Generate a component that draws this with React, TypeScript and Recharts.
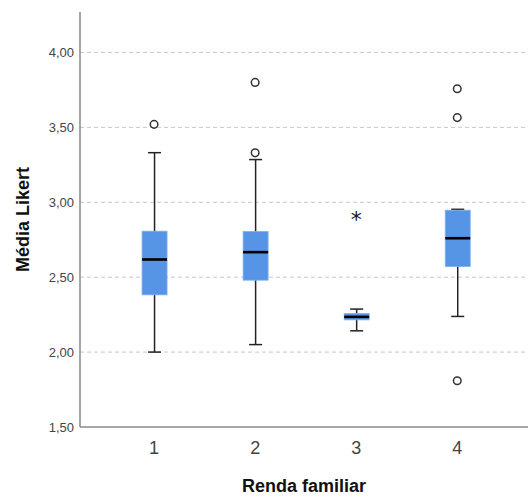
import React from "react";
import { ComposedChart, Bar, Scatter, XAxis, YAxis, CartesianGrid, Label } from "recharts";

const categories = [1, 2, 3, 4];
const mins = [2.0, 2.05, 2.142, 2.238];
const q1s = [2.382, 2.48, 2.215, 2.571];
const medians = [2.618, 2.667, 2.235, 2.76];
const q3s = [2.807, 2.805, 2.258, 2.947];
const maxs = [3.331, 3.285, 2.287, 2.953];

const outlierX = [1, 2, 2, 4, 4, 4];
const outlierY = [3.52, 3.8, 3.33, 3.758, 3.565, 1.809];
const extremeX = [3];
const extremeY = [2.898];

const yTicks = [1.5, 2.0, 2.5, 3.0, 3.5, 4.0];

const boxData = categories.map((c, i) => ({
  x: c,
  range: [mins[i], maxs[i]],
  min: mins[i],
  q1: q1s[i],
  median: medians[i],
  q3: q3s[i],
  max: maxs[i],
}));
const outliers = outlierX.map((x, i) => ({ x, y: outlierY[i] }));
const extremes = extremeX.map((x, i) => ({ x, y: extremeY[i] }));

const BoxShape = (props: any) => {
  const { x, y, width, height, payload } = props;
  if (payload == null) return null;
  const { min, max, q1, q3, median } = payload;
  const toY = (v: number) => y + (height * (max - v)) / (max - min);
  const cx = x + width / 2;
  const boxW = 25;
  const capW = 13;
  const yMin = toY(min);
  const yMax = toY(max);
  const yQ1 = toY(q1);
  const yQ3 = toY(q3);
  const yMed = toY(median);
  return (
    <g>
      <line x1={cx} x2={cx} y1={yMax} y2={yMin} stroke="#222" strokeWidth={1.5} />
      <line x1={cx - capW / 2} x2={cx + capW / 2} y1={yMax} y2={yMax} stroke="#222" strokeWidth={1.5} />
      <line x1={cx - capW / 2} x2={cx + capW / 2} y1={yMin} y2={yMin} stroke="#222" strokeWidth={1.5} />
      <rect x={cx - boxW / 2} y={yQ3} width={boxW} height={Math.max(yQ1 - yQ3, 1)} fill="#5694E6" stroke="#7FB0EE" strokeWidth={0.8} />
      <line x1={cx - boxW / 2} x2={cx + boxW / 2} y1={yMed} y2={yMed} stroke="#000" strokeWidth={2.6} />
    </g>
  );
};

const CircleShape = (props: any) => {
  const { cx, cy } = props;
  return <circle cx={cx} cy={cy} r={3.8} fill="#fff" stroke="#333" strokeWidth={1.5} />;
};

const StarShape = (props: any) => {
  const { cx, cy } = props;
  return (
    <text x={cx} y={cy + 9} textAnchor="middle" fontSize={22} fontFamily="DejaVu Sans, sans-serif" fill="#111">
      *
    </text>
  );
};

const fmt = (v: number) => v.toFixed(2).replace(".", ",");

export default function App() {
  return (
    <div style={{ position: "absolute", left: 0, top: 0, width: 528, height: 500, background: "#fff" }}>
      <ComposedChart
        width={528}
        height={500}
        data={boxData}
        margin={{ top: 12, right: 0, bottom: 72, left: 79 }}
        style={{ fontFamily: "Liberation Sans, Arial, sans-serif" }}
      >
        <CartesianGrid
          vertical={false}
          stroke="#c8c8c8"
          strokeDasharray="4 3"
          horizontalValues={[2, 2.5, 3, 3.5, 4]}
        />
        <XAxis
          dataKey="x"
          type="number"
          domain={[0.267, 4.7]}
          ticks={categories}
          allowDataOverflow
          tickLine={false}
          axisLine={{ stroke: "#888", strokeWidth: 1.5 }}
          tick={{ fontSize: 18, fill: "#444" }}
          tickMargin={8}
          height={1}
        >
          <Label value="Renda familiar" position="bottom" offset={51} style={{ fontSize: 18, fontWeight: "bold", fill: "#111" }} />
        </XAxis>
        <YAxis
          type="number"
          domain={[1.5, 4.27]}
          ticks={yTicks}
          allowDataOverflow
          tickFormatter={fmt}
          tickLine={false}
          axisLine={{ stroke: "#888", strokeWidth: 1.5 }}
          tick={{ fontSize: 13, fill: "#444" }}
          tickMargin={0}
          width={1}
        >
          <Label value="Média Likert" angle={-90} position="left" offset={56} style={{ fontSize: 18, fontWeight: "bold", fill: "#111", textAnchor: "middle" }} />
        </YAxis>
        <Bar dataKey="range" barSize={26} shape={<BoxShape />} isAnimationActive={false} />
        <Scatter data={outliers} dataKey="y" shape={<CircleShape />} isAnimationActive={false} />
        <Scatter data={extremes} dataKey="y" shape={<StarShape />} isAnimationActive={false} />
      </ComposedChart>
    </div>
  );
}
